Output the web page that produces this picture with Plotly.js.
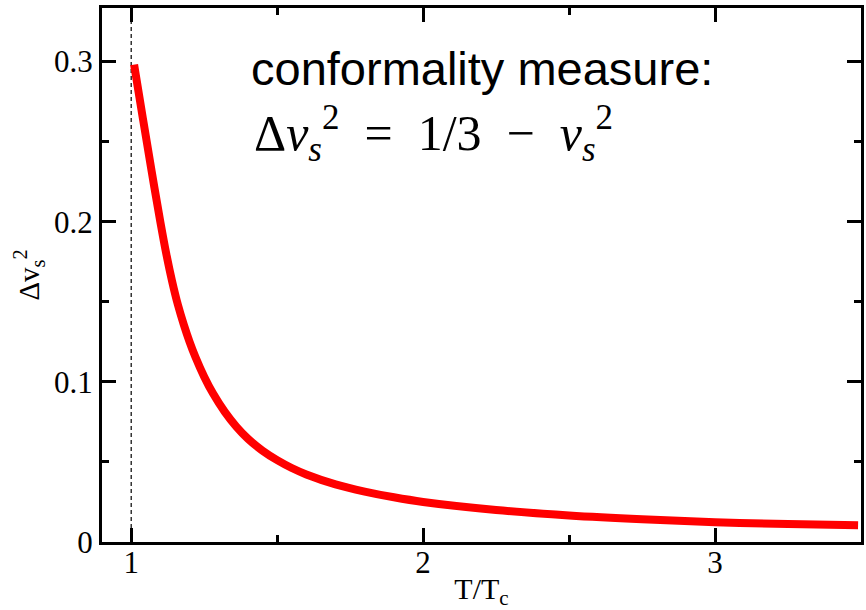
<!DOCTYPE html>
<html>
<head>
<meta charset="utf-8">
<script src="https://cdn.plot.ly/plotly-3.0.1.min.js"></script>
<style>
html,body{margin:0;padding:0;background:#fff;}
#chart{width:866px;height:610px;}
</style>
</head>
<body>
<div id="chart"></div>
<script>
// Temperature in units of Tc
const tOverTc = [1.01, 1.04, 1.07, 1.10, 1.12, 1.14, 1.16, 1.18, 1.20, 1.22, 1.25, 1.28, 1.32, 1.36, 1.40, 1.45, 1.50, 1.55, 1.60, 1.70, 1.80, 1.90, 2.00, 2.25, 2.50, 2.75, 3.00, 3.25, 3.49];
// Conformality measure Δv_s^2 = 1/3 - v_s^2
const deltaVs2 = [0.298, 0.2645, 0.2315, 0.1997, 0.1801, 0.1629, 0.1481, 0.1358, 0.125, 0.1155, 0.1032, 0.0928, 0.0814, 0.0721, 0.0645, 0.0570, 0.0511, 0.0462, 0.0422, 0.0360, 0.0315, 0.0279, 0.0250, 0.0200, 0.0166, 0.0142, 0.0124, 0.0112, 0.0104];
// Vertical reference line at T = Tc
const tcLineX = [1, 1];
const tcLineY = [0, 0.3334];

const xTickVals = [1, 2, 3];
const xTickText = ['1', '2', '3'];
const yTickVals = [0, 0.1, 0.2, 0.3];
const yTickText = ['0', '0.1', '0.2', '0.3'];

const serif = '"Liberation Serif", "Times New Roman", Times, serif';
const sans = '"Liberation Sans", Arial, Helvetica, sans-serif';

const traces = [
  {
    x: tcLineX, y: tcLineY, type: 'scatter', mode: 'lines',
    line: {color: '#000', width: 1.2, dash: '4px,3px'},
    hoverinfo: 'skip', showlegend: false
  },
  {
    x: tOverTc, y: deltaVs2, type: 'scatter', mode: 'lines',
    line: {color: '#ff0000', width: 8, shape: 'spline', smoothing: 1},
    showlegend: false
  }
];

const axisCommon = {
  showgrid: false, zeroline: false,
  showline: true, linecolor: '#000', linewidth: 3,
  mirror: 'allticks',
  ticks: 'inside', ticklen: 14, tickwidth: 3, tickcolor: '#000',
  tickfont: {family: serif, size: 31, color: '#000'}
};

const layout = {
  width: 866, height: 610,
  paper_bgcolor: '#fff', plot_bgcolor: '#fff',
  margin: {l: 102, r: 5, t: 8, b: 68},
  showlegend: false,
  xaxis: Object.assign({}, axisCommon, {
    range: [0.9, 3.5],
    tickmode: 'array', tickvals: xTickVals, ticktext: xTickText,
    ticklabelstandoff: -9,
    minor: {dtick: 0.5, tick0: 0, ticks: 'inside', ticklen: 7, tickwidth: 3, tickcolor: '#000', showgrid: false},
    title: {text: 'T/T<sub>c</sub>', font: {family: serif, size: 30, color: '#000'}, standoff: 6}
  }),
  yaxis: Object.assign({}, axisCommon, {
    range: [0, 0.3334],
    tickmode: 'array', tickvals: yTickVals, ticktext: yTickText,
    minor: {dtick: 0.05, tick0: 0, ticks: 'inside', ticklen: 7, tickwidth: 3, tickcolor: '#000', showgrid: false},
    title: {text: 'Δv<sub>s</sub><sup>2</sup>', font: {family: serif, size: 29, color: '#000'}, standoff: 6}
  }),
  annotations: [
    {
      xref: 'paper', yref: 'paper', x: 0.194, y: 0.887,
      xanchor: 'left', yanchor: 'middle', showarrow: false,
      text: 'conformality measure:',
      font: {family: sans, size: 47, color: '#000'}
    },
    {
      xref: 'paper', yref: 'paper', x: 0.197, y: 0.765,
      xanchor: 'left', yanchor: 'middle', showarrow: false,
      text: 'Δ<i>v</i><sub><i>s</i></sub><sup>2</sup>\u2002=\u20021/3\u2002−\u2002<i>v</i><sub><i>s</i></sub><sup>2</sup>',
      font: {family: serif, size: 50, color: '#000'}
    }
  ]
};

Plotly.newPlot('chart', traces, layout, {displayModeBar: false, staticPlot: true});
</script>
</body>
</html>
